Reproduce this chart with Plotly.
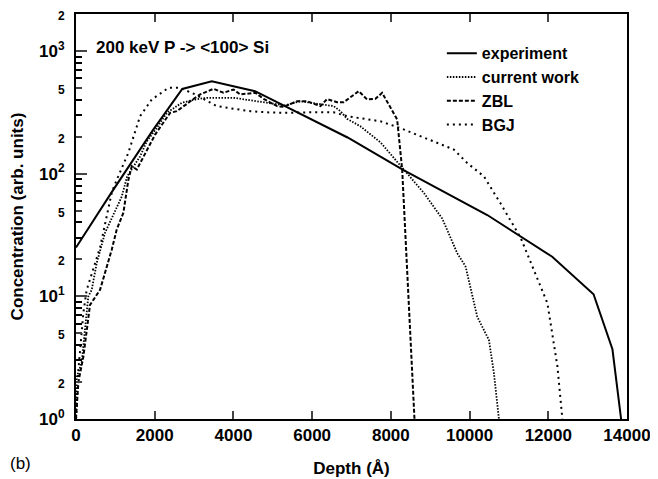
import plotly.graph_objects as go

# ---- data ----
exp_x = [0, 900, 1950, 2700, 3450, 4550, 6900, 8300, 10450, 12100, 13150, 13630, 13850]
exp_y = [25, 70, 225, 490, 565, 470, 197, 108, 46, 21, 10.4, 3.7, 1.0]

cur_x = [0, 20, 145, 313, 400, 527, 738, 1163, 1300, 1628, 1798, 2053, 2308, 2689, 3028, 3324,
         4003, 4852, 5300, 5700, 6548, 6718, 6887, 7226, 7735, 8329, 8838, 9305, 9686, 9898,
         10196, 10492, 10619, 10746]
cur_y = [1, 2.2, 2.9, 10, 11.3, 18.7, 33, 65, 95, 138, 183, 236, 313, 378, 402, 415,
         415, 378, 360, 389, 355, 323, 280, 243, 180, 108, 69.6, 43, 22.5, 17.5,
         6.8, 4.4, 2.36, 1]

zbl_x = [0, 60, 186, 356, 611, 908, 1035, 1204, 1331, 1417, 1544, 2010, 2392, 2562, 3028, 3155,
         3494, 3748, 4003, 4173, 4555, 4767, 5106, 5275, 5615, 5870, 6209, 6379, 6633, 6802,
         7184, 7396, 7608, 7778, 8160, 8288, 8600]
zbl_y = [1, 2, 3.2, 8.5, 11.3, 24, 35, 48, 89, 115, 108, 208, 313, 323, 415, 442,
         491, 456, 485, 442, 456, 407, 355, 350, 389, 389, 355, 405, 382, 382,
         470, 402, 407, 456, 276, 108, 1]

bgj_x = [0, 60, 186, 272, 611, 908, 1035, 1331, 1628, 1926, 2349, 2646, 3028, 3578, 4003, 4428,
         4852, 5361, 5954, 6548, 6887, 7735, 8288, 9601, 9941, 10364, 10789, 11298, 11977,
         12104, 12231, 12358]
bgj_y = [1, 2.5, 7.3, 11.3, 25, 70, 89, 148, 294, 402, 500, 500, 442, 355, 338, 323,
         316, 313, 316, 316, 294, 267, 232, 157, 122, 95, 57, 30, 8.8,
         5.0, 2.7, 1.0]

x_ticks = [0, 2000, 4000, 6000, 8000, 10000, 12000, 14000]
x_ticktext = ["0", "2000", "4000", "6000", "8000", "10000", "12000", "14000"]
y_ticks = [1, 2, 5, 10, 20, 50, 100, 200, 500, 1000, 2000]
y_ticktext = ["10<sup>0</sup>", "2", "5", "10<sup>1</sup>", "2", "5",
              "10<sup>2</sup>", "2", "5", "10<sup>3</sup>", "2"]
decades = [1, 10, 100, 1000]
minor_vals = [v * d for d in [1, 10, 100, 1000] for v in [3, 4, 6, 7, 8, 9] if v * d < 2000]

FONT = "Liberation Sans, Arial, Helvetica, sans-serif"

def small(t):
    if t.startswith("10"):
        return t
    return '<span style="font-size:12px">' + t + '</span>'

fig = go.Figure()
fig.add_trace(go.Scatter(x=exp_x, y=exp_y, mode="lines", name="experiment",
                         line=dict(color="black", width=2, dash="solid")))
fig.add_trace(go.Scatter(x=cur_x, y=cur_y, mode="lines", name="current work",
                         line=dict(color="black", width=1.8, dash="1.5px,1.5px")))
fig.add_trace(go.Scatter(x=zbl_x, y=zbl_y, mode="lines", name="ZBL",
                         line=dict(color="black", width=2, dash="4px,2px")))
fig.add_trace(go.Scatter(x=bgj_x, y=bgj_y, mode="lines", name="BGJ",
                         line=dict(color="black", width=2, dash="2px,4px")))
fig.add_trace(go.Scatter(x=[None], y=[None], yaxis="y2", showlegend=False, hoverinfo="skip"))

fig.update_layout(
    width=658, height=479,
    margin=dict(l=68, r=39, t=6, b=68),
    paper_bgcolor="white", plot_bgcolor="white",
    font=dict(family=FONT, color="black", size=17),
    xaxis=dict(range=[0, 14000], tickvals=x_ticks, ticktext=x_ticktext,
               ticks="inside", ticklen=8, tickwidth=2, automargin=False,
               showline=True, linewidth=2, linecolor="black", mirror="ticks",
               showgrid=False, zeroline=False,
               tickfont=dict(family=FONT, size=17, weight="bold"),
               title=dict(text="Depth (Å)", font=dict(family=FONT, size=17, weight="bold"),
                          standoff=18)),
    yaxis=dict(type="log", range=[0, 3.30103], tickvals=y_ticks,
               ticktext=[small(t) for t in y_ticktext], automargin=False,
               ticks="inside", ticklen=6, tickwidth=1.5,
               minor=dict(tickvals=minor_vals, ticks="inside", ticklen=6, tickwidth=1.5,
                          tickcolor="black", showgrid=False),
               showline=True, linewidth=2, linecolor="black", mirror=True,
               showgrid=False, zeroline=False, ticklabelstandoff=6,
               tickfont=dict(family=FONT, size=17, weight="bold"),
               title=dict(text="Concentration (arb. units)",
                          font=dict(family=FONT, size=17, weight="bold"), standoff=12)),
    yaxis2=dict(type="log", range=[0, 3.30103], overlaying="y", anchor="x", side="left",
                tickvals=decades, ticks="inside", ticklen=11, tickwidth=2,
                showticklabels=False, showline=False, showgrid=False, zeroline=False),
    legend=dict(x=0.664, y=0.945, xanchor="left", yanchor="top",
                bgcolor="rgba(0,0,0,0)", borderwidth=0,
                font=dict(family=FONT, size=16, weight="bold"),
                tracegroupgap=0, itemwidth=30),
    showlegend=True,
    annotations=[
        dict(text="200 keV P -&gt; &lt;100&gt; Si", xref="paper", yref="paper",
             x=0.032, y=0.918, xanchor="left", yanchor="middle", showarrow=False,
             font=dict(family=FONT, size=17, weight="bold")),
        dict(text="(b)", xref="paper", yref="paper", x=-0.1234, y=-0.109,
             xanchor="left", yanchor="middle", showarrow=False,
             font=dict(family=FONT, size=17)),
    ],
)

fig.write_html("out.html")
